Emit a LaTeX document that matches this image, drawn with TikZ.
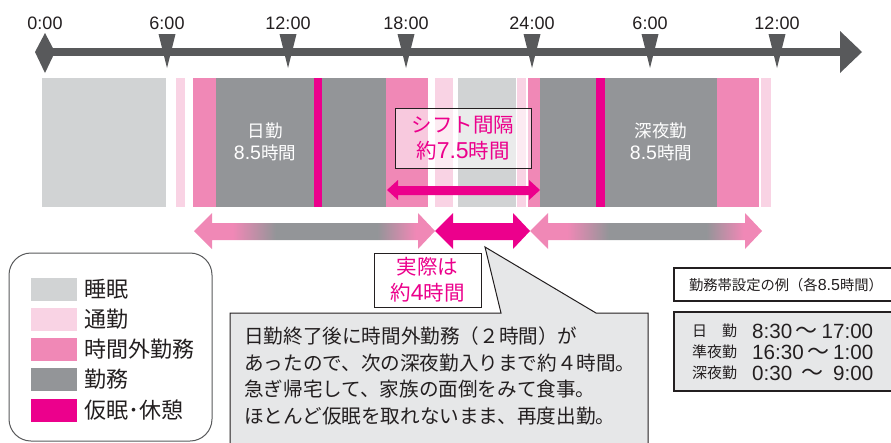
\documentclass[tikz,border=0pt]{standalone}
\usepackage{fontspec}
\setmainfont{Noto Sans CJK JP}
\newfontfamily\jp{Noto Sans CJK JP}
\newfontfamily\lat{Liberation Sans}
\definecolor{axisc}{HTML}{58595B}
\definecolor{slp}{HTML}{D1D3D4}
\definecolor{cmt}{HTML}{F9D3E4}
\definecolor{ovt}{HTML}{F088B6}
\definecolor{wrk}{HTML}{939598}
\definecolor{nap}{HTML}{EC008C}
\definecolor{boxg}{HTML}{E6E7E8}
\definecolor{ink}{HTML}{231F20}
\pgfdeclarehorizontalshading{pgp}{100bp}{color(0bp)=(ovt); color(33bp)=(ovt); color(42bp)=(wrk); color(63bp)=(wrk); color(71bp)=(ovt); color(100bp)=(ovt)}
\newcommand\fs[2]{\fontsize{#1}{#2}\selectfont}
\newcommand\dg[2]{{\lat\fontsize{#1}{#1}\selectfont #2}}
\begin{document}
\begin{tikzpicture}[x=1pt,y=-1pt,
  hourlbl/.style={inner sep=0, text=ink, font=\lat\fs{18}{20}},
  barlbl/.style={inner sep=0, text=white, align=center, font=\fs{17.5}{22}},
  pinkbox/.style={draw=ink, line width=1, text=nap, align=center, inner sep=0, font=\fs{20.5}{26}},
  legtxt/.style={anchor=west, inner sep=0, text=ink, font=\fs{22}{24}},
  rowlbl/.style={anchor=west, inner sep=0, text=ink, font=\fs{15}{17}},
  rowtime/.style={anchor=west, inner sep=0, text=ink, font=\lat\fs{20.6}{22}},
  framec/.style={draw=ink, line width=1.2}
]
\useasboundingbox (0,0) rectangle (891,442);
\clip (0,0) rectangle (891,442);

% time axis
\fill[axisc] (45,48) rectangle (842,56);
\fill[axisc] (840,31) -- (862,52) -- (840,73) -- cycle;
\fill[axisc] (35,52) -- (45,33) -- (55,52) -- (45,73) -- cycle;
\foreach \x/\t [count=\i] in {45/0:00,167/6:00,288/12:00,406/18:00,532/24:00,650/6:00,777/12:00} {
  \ifnum\i>1 \fill[axisc] (\x-8.5,34) -- (\x+8.5,34) -- (\x,68) -- cycle; \fi
  \node[hourlbl] (h\i) at (\x,23) {\t};
}

% bars
\foreach \a/\b/\c in {42/166/slp,176/185/cmt,193/216/ovt,216/314/wrk,314/322/nap,322/386/wrk,386/428/ovt,435/453/cmt,458/516/slp,517/526/cmt,528/540/ovt,540/596/wrk,596/605/nap,605/717/wrk,717/759/ovt,761/771/cmt}
  \fill[\c] (\a,78) rectangle (\b,207);

\node[barlbl] (day) at (265,142) {日勤\\\dg{19.5}{8.5}時間};
\node[barlbl] (night) at (661,142) {深夜勤\\\dg{19.5}{8.5}時間};

% shift interval arrow
\fill[nap] (387,190) -- (398,180) -- (398,186) -- (529,186) -- (529,180) -- (540,190) -- (529,200) -- (529,195) -- (398,195) -- (398,200) -- cycle;

\node[pinkbox, fill=white, fill opacity=0.55, text opacity=1, minimum width=136, minimum height=60] (shift) at (463,138) {シフト間隔\\約\dg{23}{7.5}時間};

% lower arrows
\shade[shading=pgp] (194,231) -- (212,213) -- (212,223) -- (418,223) -- (418,213) -- (435,231) -- (418,249) -- (418,240) -- (212,240) -- (212,249) -- cycle;
\fill[nap] (435,231) -- (453,213) -- (453,223) -- (513,223) -- (513,213) -- (530,231) -- (513,249) -- (513,240) -- (453,240) -- (453,249) -- cycle;
\shade[shading=pgp] (530,231) -- (548,213) -- (548,223) -- (745,223) -- (745,213) -- (762,231) -- (745,249) -- (745,240) -- (548,240) -- (548,249) -- cycle;

% actual box
\node[pinkbox, fill=white, minimum width=107, minimum height=54] (actual) at (427.5,280) {実際は\\約\dg{23}{4}時間};

% callout
\filldraw[fill=boxg, draw=ink, line width=1] (230,313) -- (501,313) -- (485,247) -- (596,313) -- (648,313) -- (648,460) -- (230,460) -- cycle;
\node[anchor=west, align=left, inner sep=0, text=ink, font=\fs{19.6}{26.6}] (note) at (244,376)
 {日勤終了後に時間外勤務（２時間）が\\あったので、次の深夜勤入りまで約４時間。\\急ぎ帰宅して、家族の面倒をみて食事。\\ほとんど仮眠を取れないまま、再度出勤。};

% legend
\draw[draw=axisc, line width=1, rounded corners=22] (9,253) rectangle (212,441);
\foreach \y/\c/\t [count=\i] in {289.5/slp/睡眠,319.5/cmt/通勤,349.5/ovt/時間外勤務,379.5/wrk/勤務,410.5/nap/仮眠･休憩} {
  \fill[\c] (31,\y-11.5) rectangle (77,\y+11.5);
  \node[legtxt] (lg\i) at (84,\y) {\t};
}

% shift table
\filldraw[framec, fill=white] (674,268) rectangle (905,301);
\node[inner sep=0, text=ink, font=\fs{14.3}{16}] (ttl) at (786,285) {勤務帯設定の例（各\dg{16}{8.5}時間）};
\filldraw[framec, fill=boxg] (674,312) rectangle (905,391);
\node[rowlbl] (r1l) at (692,331) {\makebox[45pt]{日\hfill 勤}};
\node[rowtime] (r1t) at (752,331) {\makebox[121pt]{8:30\hfill{\jp\fs{22}{22}～}\hfill 17:00}};
\node[rowlbl] (r2l) at (692,352) {\makebox[45pt]{準夜勤}};
\node[rowtime] (r2t) at (752,352) {\makebox[121pt]{16:30\hfill{\jp\fs{22}{22}～}\hfill 1:00}};
\node[rowlbl] (r3l) at (692,373) {\makebox[45pt]{深夜勤}};
\node[rowtime] (r3t) at (752,373) {\makebox[121pt]{0:30\hfill{\jp\fs{22}{22}～}\hfill 9:00}};
\end{tikzpicture}
\end{document}
